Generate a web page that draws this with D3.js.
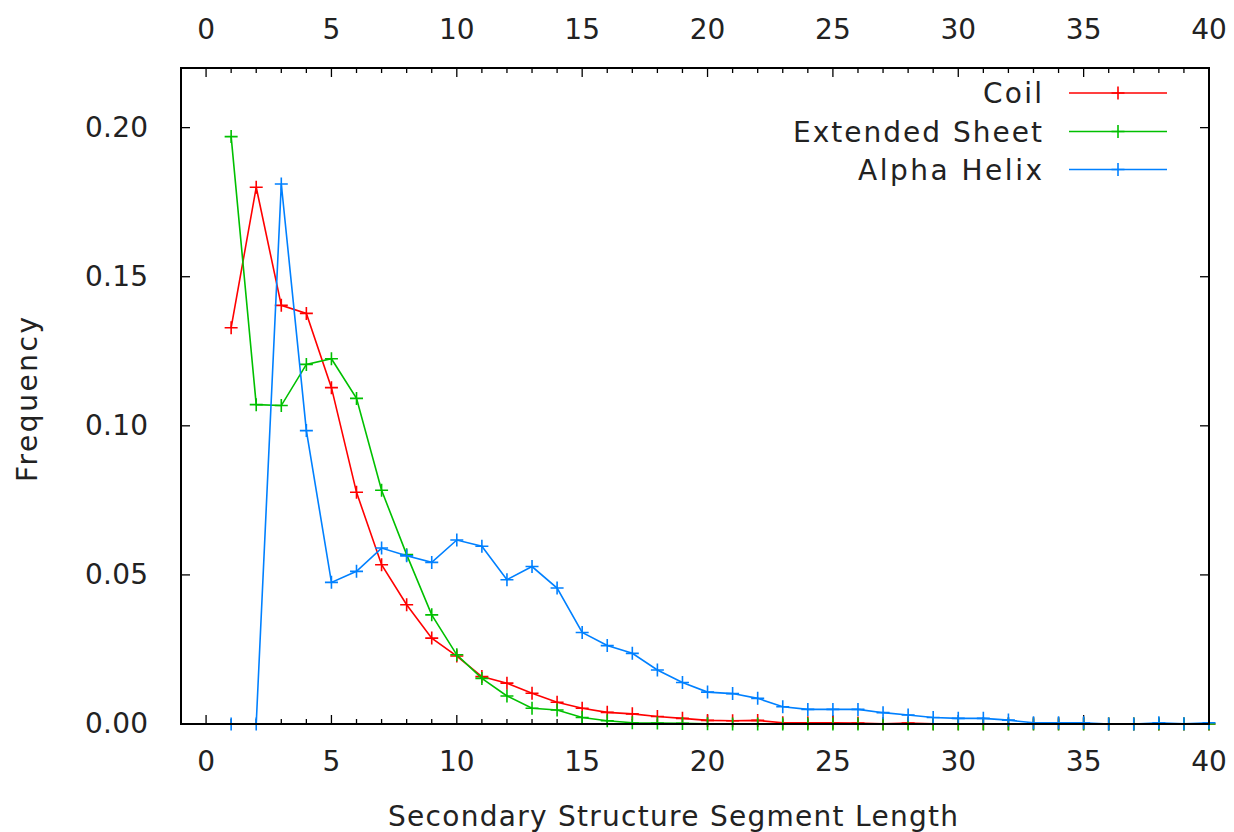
<!DOCTYPE html>
<html>
<head>
<meta charset="utf-8">
<script src="https://cdn.jsdelivr.net/npm/d3@7"></script>
<style>
  html, body { margin: 0; padding: 0; background: #fff; }
  svg text { font-family: "DejaVu Sans", sans-serif; fill: #222; }
</style>
</head>
<body>
<svg id="chart" width="1234" height="832"></svg>
<script>
// segment lengths 1..40
const lengths = d3.range(1, 41);

const coil = [0.1329, 0.1800, 0.1404, 0.1377, 0.1128, 0.0777, 0.0534, 0.0400, 0.0288, 0.0228,
  0.0159, 0.0137, 0.0103, 0.0073, 0.0053, 0.0039, 0.0034, 0.0025, 0.0019, 0.0012,
  0.0011, 0.0012, 0.0004, 0.0004, 0.0004, 0.0003, 0.0001, 0.0003, 0.0001, 0.0001,
  0.0001, 0.0001, 0.0001, 0.0001, 0.0001, 0.0000, 0.0000, 0.0000, 0.0000, 0.0000];

const sheet = [0.1970, 0.1071, 0.1068, 0.1206, 0.1225, 0.1092, 0.0784, 0.0568, 0.0366, 0.0232,
  0.0153, 0.0094, 0.0053, 0.0047, 0.0022, 0.0011, 0.0004, 0.0003, 0.0002, 0.0001,
  0.0000, 0.0000, 0.0000, 0.0000, 0.0000, 0.0000, 0.0000, 0.0000, 0.0000, 0.0000,
  0.0000, 0.0000, 0.0000, 0.0000, 0.0000, 0.0000, 0.0000, 0.0000, 0.0000, 0.0000];

const helix = [0.0000, 0.0000, 0.1811, 0.0984, 0.0475, 0.0512, 0.0590, 0.0564, 0.0542, 0.0617,
  0.0596, 0.0484, 0.0528, 0.0456, 0.0307, 0.0263, 0.0237, 0.0181, 0.0139, 0.0107,
  0.0102, 0.0086, 0.0058, 0.0049, 0.0049, 0.0049, 0.0038, 0.0030, 0.0022, 0.0019,
  0.0019, 0.0013, 0.0004, 0.0004, 0.0004, 0.0000, 0.0000, 0.0004, 0.0001, 0.0004];

const seriesNames = ["Coil", "Extended Sheet", "Alpha Helix"];
const seriesColors = ["#ff0000", "#00c000", "#0080ff"];

const xTicks = d3.range(0, 41, 5);
const yTicks = [0, 0.05, 0.10, 0.15, 0.20];

const margin = { left: 181, top: 68, right: 1209, bottom: 724 };
const svg = d3.select("#chart");

const x = d3.scaleLinear().domain([-1, 40]).range([margin.left, margin.right]);
const y = d3.scaleLinear().domain([0, 0.22]).range([margin.bottom, margin.top]);

const fontSize = 28;

// tick marks (major on both sides, minor on x only)
const ticks = svg.append("g").attr("stroke", "#000").attr("stroke-width", 1.3);
d3.range(0, 41).forEach(v => {
  const len = v % 5 === 0 ? 9 : 5;
  ticks.append("line").attr("x1", x(v)).attr("x2", x(v))
    .attr("y1", margin.bottom).attr("y2", margin.bottom - len);
  ticks.append("line").attr("x1", x(v)).attr("x2", x(v))
    .attr("y1", margin.top).attr("y2", margin.top + len);
});
yTicks.forEach(v => {
  ticks.append("line").attr("x1", margin.left).attr("x2", margin.left + 9)
    .attr("y1", y(v)).attr("y2", y(v));
  ticks.append("line").attr("x1", margin.right).attr("x2", margin.right - 9)
    .attr("y1", y(v)).attr("y2", y(v));
});

// tick labels
svg.append("g").selectAll("text").data(xTicks).join("text")
  .attr("x", d => x(d)).attr("y", 771)
  .attr("text-anchor", "middle").attr("font-size", fontSize)
  .text(d => d);
svg.append("g").selectAll("text").data(xTicks).join("text")
  .attr("x", d => x(d)).attr("y", 39)
  .attr("text-anchor", "middle").attr("font-size", fontSize)
  .text(d => d);
svg.append("g").selectAll("text").data(yTicks).join("text")
  .attr("x", 148).attr("y", d => y(d) + 9)
  .attr("text-anchor", "end").attr("font-size", fontSize)
  .attr("textLength", 63).attr("lengthAdjust", "spacing")
  .text(d => d3.format(".2f")(d));

// axis titles
svg.append("text")
  .attr("x", 388).attr("y", 826)
  .attr("font-size", fontSize)
  .attr("textLength", 570).attr("lengthAdjust", "spacing")
  .text("Secondary Structure Segment Length");
svg.append("text")
  .attr("transform", "translate(37,482) rotate(-90)")
  .attr("font-size", fontSize)
  .attr("textLength", 165).attr("lengthAdjust", "spacing")
  .text("Frequency");

// data
const allSeries = [coil, sheet, helix];
const line = d3.line().x((d, i) => x(lengths[i])).y(d => y(d));
const plus = (g, cx, cy, color) => {
  g.append("path")
    .attr("d", `M${cx - 6.5},${cy}H${cx + 6.5}M${cx},${cy - 6.5}V${cy + 6.5}`)
    .attr("stroke", color).attr("stroke-width", 1.6).attr("fill", "none");
};

const dataG = svg.append("g");
allSeries.forEach((vals, k) => {
  const g = dataG.append("g");
  g.append("path").datum(vals)
    .attr("d", line)
    .attr("fill", "none")
    .attr("stroke", seriesColors[k])
    .attr("stroke-width", 1.6);
  vals.forEach((v, i) => plus(g, x(lengths[i]), y(v), seriesColors[k]));
});

// frame on top
svg.append("rect")
  .attr("x", margin.left).attr("y", margin.top)
  .attr("width", margin.right - margin.left)
  .attr("height", margin.bottom - margin.top)
  .attr("fill", "none").attr("stroke", "#000").attr("stroke-width", 2);

// legend
const legendY = [93, 131.5, 169.5];
const legendStart = [983, 793, 858];
const legend = svg.append("g");
seriesNames.forEach((name, k) => {
  legend.append("text")
    .attr("x", legendStart[k]).attr("y", legendY[k] + 10)
    .attr("font-size", fontSize)
    .attr("textLength", 1042 - legendStart[k]).attr("lengthAdjust", "spacing")
    .text(name);
  legend.append("line")
    .attr("x1", 1069).attr("x2", 1167)
    .attr("y1", legendY[k]).attr("y2", legendY[k])
    .attr("stroke", seriesColors[k]).attr("stroke-width", 1.6);
  plus(legend, 1118, legendY[k], seriesColors[k]);
});
</script>
</body>
</html>
